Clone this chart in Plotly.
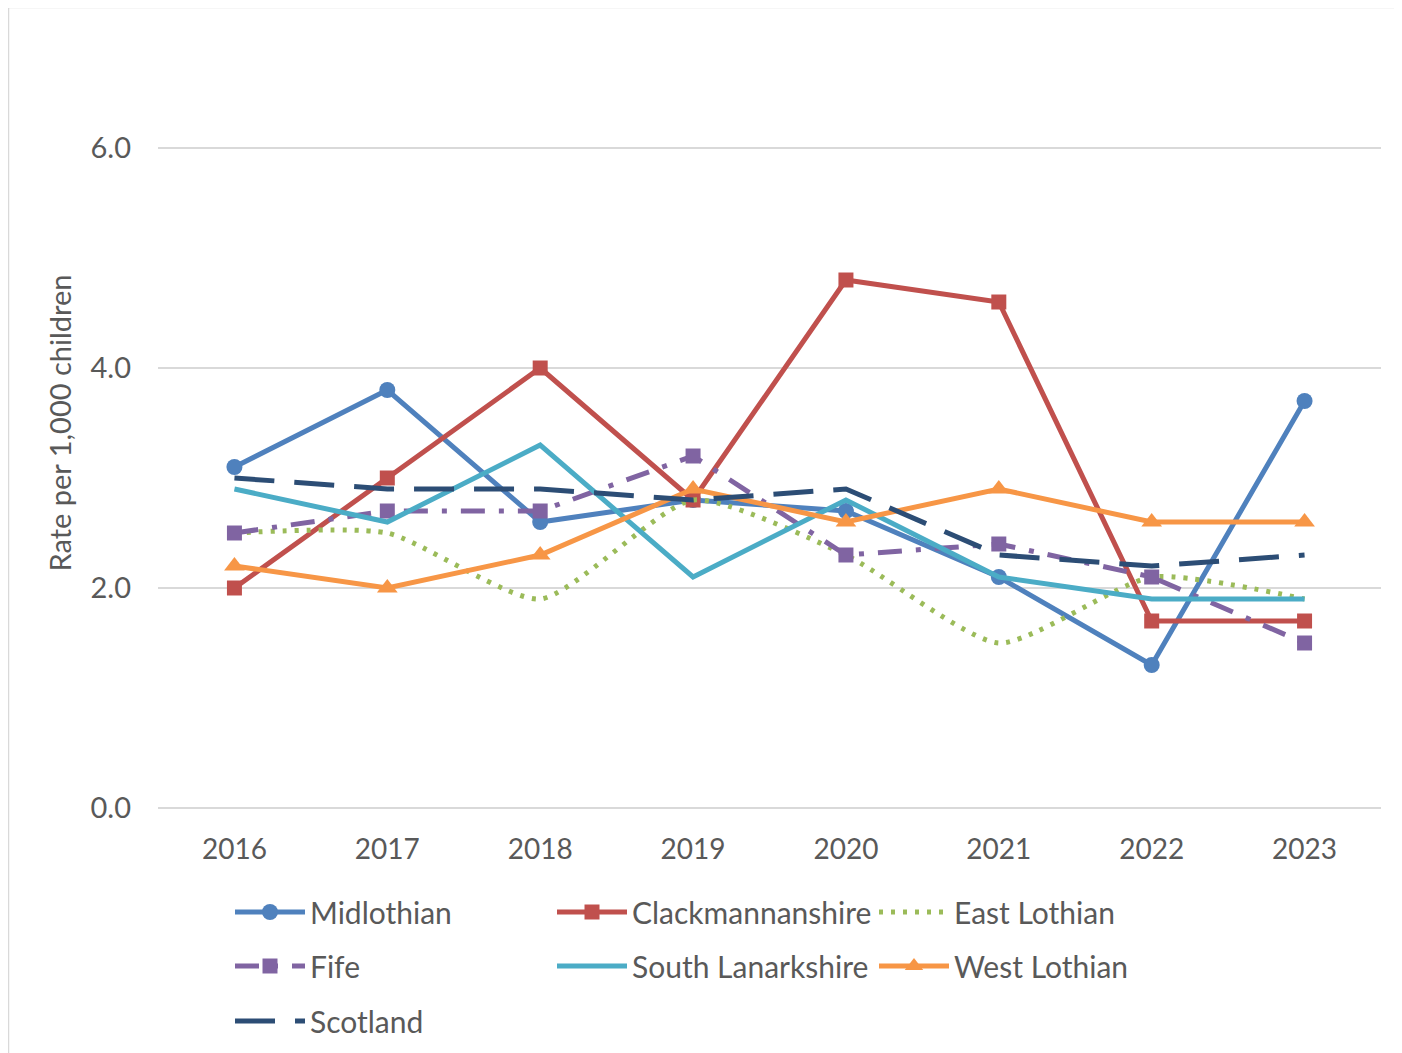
import plotly.graph_objects as go

years = ["2016", "2017", "2018", "2019", "2020", "2021", "2022", "2023"]
midlothian = [3.1, 3.8, 2.6, 2.8, 2.7, 2.1, 1.3, 3.7]
clackmannanshire = [2.0, 3.0, 4.0, 2.8, 4.8, 4.6, 1.7, 1.7]
east_lothian = [2.5, 2.5, 1.9, 2.8, 2.3, 1.5, 2.1, 1.9]
fife = [2.5, 2.7, 2.7, 3.2, 2.3, 2.4, 2.1, 1.5]
south_lanarkshire = [2.9, 2.6, 3.3, 2.1, 2.8, 2.1, 1.9, 1.9]
west_lothian = [2.2, 2.0, 2.3, 2.9, 2.6, 2.9, 2.6, 2.6]
scotland = [3.0, 2.9, 2.9, 2.8, 2.9, 2.3, 2.2, 2.3]
y_ticks = [0, 2, 4, 6]

FONT = "Lato"
W, H = 1402, 1053
# page is offset by an 8px body margin
OFF = 8
L, R, T, B = 150, 29, 30, 253

fig = go.Figure()

series = [
    ("Midlothian", midlothian, "#4F81BD", "solid", "circle", 16, "linear", "legend"),
    ("Clackmannanshire", clackmannanshire, "#C0504D", "solid", "square", 15, "linear", "legend"),
    ("East Lothian", east_lothian, "#9BBB59", "4px,8px", None, 0, "spline", "legend"),
    ("Fife", fife, "#8064A2", "24px,14px,5px,14px", "square", 15, "linear", "legend2"),
    ("South Lanarkshire", south_lanarkshire, "#4BACC6", "solid", None, 0, "linear", "legend2"),
    ("West Lothian", west_lothian, "#F79646", "solid", "triangle-up", 18, "linear", "legend2"),
    ("Scotland", scotland, "#2C4D75", "40px,20px", None, 0, "linear", "legend3"),
]

for name, vals, color, dash, sym, msize, shape, lg in series:
    mode = "lines+markers" if sym else "lines"
    kw = dict(x=years, y=vals, name=name, mode=mode, legend=lg,
              line=dict(color=color, width=5, dash=dash, shape=shape, smoothing=0.6))
    if sym:
        kw["marker"] = dict(symbol=sym, size=msize, color=color, line=dict(width=0))
    fig.add_trace(go.Scatter(**kw))

legend_common = dict(orientation="h", xanchor="left", yanchor="middle",
                     font=dict(family=FONT, size=30, color="#595959"),
                     itemwidth=70, entrywidth=237, entrywidthmode="pixels",
                     bgcolor="rgba(0,0,0,0)", itemclick=False)

def py(pix):
    return (H - B - (pix - OFF)) / (H - T - B)

def px(pix):
    return ((pix - OFF) - L) / (W - L - R)

fig.update_layout(
    width=W, height=H,
    margin=dict(l=L, r=R, t=T, b=B, autoexpand=False),
    paper_bgcolor="white", plot_bgcolor="white",
    showlegend=True,
    legend=dict(**legend_common, x=px(230), y=py(912)),
    legend2=dict(**legend_common, x=px(230), y=py(966)),
    legend3=dict(**legend_common, x=px(230), y=py(1021)),
    xaxis=dict(type="category", range=[-0.5, 7.5], showgrid=False,
               tickfont=dict(family=FONT, size=28, color="#595959"),
               ticks="", showline=False, ticklabelstandoff=22),
    yaxis=dict(range=[0, 7], tickvals=y_ticks, tickformat=".1f",
               showgrid=True, gridcolor="#D9D9D9", gridwidth=2,
               zeroline=True, zerolinecolor="#D9D9D9", zerolinewidth=2,
               showline=False, ticks="",
               tickfont=dict(family=FONT, size=29, color="#595959"),
               ticklabelstandoff=26,
               title=dict(text="Rate per 1,000 children",
                          font=dict(family=FONT, size=29, color="#595959"),
                          standoff=10)),
    shapes=[dict(type="rect", xref="paper", yref="paper",
                 x0=px(8.5), x1=px(1420), y0=py(1070), y1=py(7.5),
                 line=dict(color="#D9D9D9", width=1.5), fillcolor="rgba(0,0,0,0)",
                 layer="below")],
)

fig.write_html("out.html")
